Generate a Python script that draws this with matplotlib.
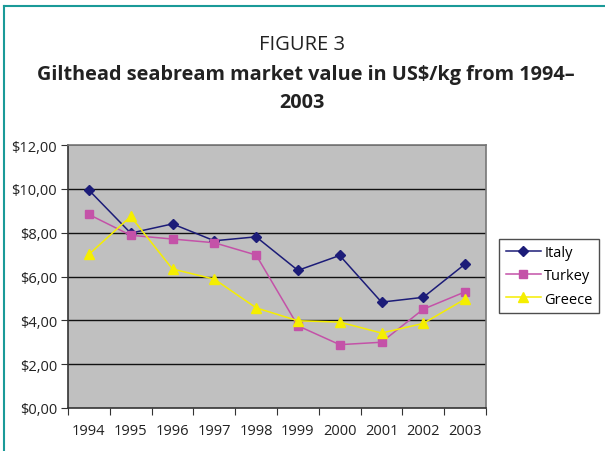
import matplotlib.pyplot as plt
from matplotlib.lines import Line2D

plt.rcParams['font.family'] = ['Open Sans', 'DejaVu Sans']

# Data
years = ['1994', '1995', '1996', '1997', '1998', '1999', '2000', '2001', '2002', '2003']
italy = [9.94, 7.98, 8.40, 7.63, 7.81, 6.28, 6.96, 4.83, 5.05, 6.57]
turkey = [8.83, 7.88, 7.71, 7.54, 6.98, 3.75, 2.89, 3.00, 4.51, 5.30]
greece = [7.01, 8.74, 6.34, 5.88, 4.57, 3.98, 3.92, 3.42, 3.86, 4.97]
y_ticks = [0, 2, 4, 6, 8, 10, 12]

fig = plt.figure(figsize=(6.05, 4.52), dpi=100)
W, H = 605, 452
ax = fig.add_axes([68 / W, 1 - 409 / H, (486 - 68) / W, (409 - 146) / H])
ax.set_facecolor('#c0c0c0')

x = list(range(len(years)))
ax.plot(x, italy, color='#1c1c78', marker='D', markersize=5.5, lw=1.1, label='Italy')
ax.plot(x, turkey, color='#c452a8', marker='s', markersize=6, lw=1.1, label='Turkey')
ax.plot(x, greece, color='#f5ee00', marker='^', markersize=7.5, lw=1.1, label='Greece')

ax.set_xlim(-0.5, 9.5)
ax.set_ylim(0, 12)
ax.set_yticks(y_ticks)
ax.set_yticklabels(['$%d,00' % v for v in y_ticks], fontsize=10.5, color='#222222')
ax.set_xticks([i - 0.5 for i in range(len(years) + 1)])
ax.set_xticklabels([])
ax.set_xticks(x, minor=True)
ax.set_xticklabels(years, minor=True, fontsize=10.5, color='#222222')
ax.tick_params(axis='x', which='minor', length=0, pad=11)
ax.tick_params(axis='x', which='major', length=5, direction='out', color='#333333')
ax.tick_params(axis='y', length=5, direction='out', color='#333333', pad=3)

for v in y_ticks[1:-1]:
    ax.axhline(v, color='#111111', lw=1.0, zorder=1)
ax.axhline(12, color='#555555', lw=1.2, zorder=1)

for s in ['left', 'bottom']:
    ax.spines[s].set_color('#333333')
    ax.spines[s].set_linewidth(1.2)
for s in ['top', 'right']:
    ax.spines[s].set_color('#777777')
    ax.spines[s].set_linewidth(1.2)

leg = ax.legend(loc='center left', bbox_to_anchor=(499 / W, 1 - 277 / H),
                bbox_transform=fig.transFigure, fontsize=10.5, frameon=True,
                fancybox=False, edgecolor='#222222', handlelength=2.4,
                handletextpad=0.25, borderpad=0.45, labelspacing=0.55,
                borderaxespad=0)
leg.get_frame().set_linewidth(1.0)

fig.text(302 / W, 1 - 45 / H, 'FIGURE 3', ha='center', va='center', fontsize=14.5, color='#222222')
fig.text(306 / W, 1 - 75 / H, 'Gilthead seabream market value in US$/kg from 1994–',
         ha='center', va='center', fontsize=14.3, fontweight='bold', color='#222222')
fig.text(302 / W, 1 - 103 / H, '2003', ha='center', va='center', fontsize=14.3,
         fontweight='bold', color='#222222')

# teal frame lines on the left and top
fig.add_artist(Line2D([4 / W, 4 / W], [0, 1 - 7 / H], transform=fig.transFigure, color='#1a9a98', lw=1.5))
fig.add_artist(Line2D([4 / W, 1], [1 - 7 / H, 1 - 7 / H], transform=fig.transFigure, color='#1a9a98', lw=1.5))

fig.savefig('out.png', dpi=100)
